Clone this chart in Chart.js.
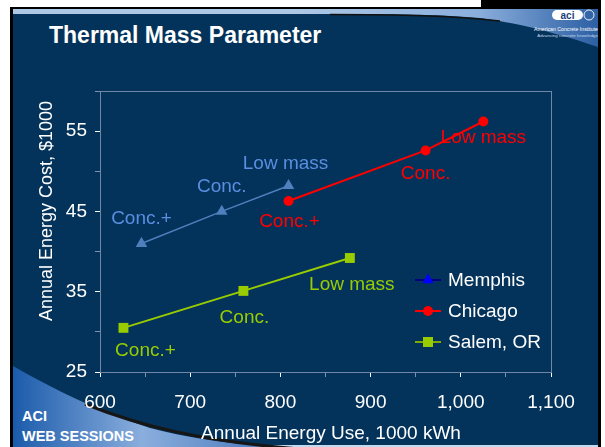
<!DOCTYPE html>
<html>
<head>
<meta charset="utf-8">
<title>Thermal Mass Parameter</title>
<script src="https://cdn.jsdelivr.net/npm/chart.js"></script>
<style>
  html, body { margin: 0; padding: 0; background: #fff; }
  #wrap { position: relative; width: 605px; height: 447px; overflow: hidden; }
  #deco, #chart { position: absolute; left: 0; top: 0; }
  svg text { font-family: "Liberation Sans", Arial, sans-serif; }
</style>
</head>
<body>
<div id="wrap">
  <svg id="deco" width="605" height="447">
    <defs>
      <linearGradient id="topSwoosh" gradientUnits="userSpaceOnUse" x1="300" y1="0" x2="598" y2="0">
        <stop offset="0" stop-color="#adc8e6"/>
        <stop offset="0.6" stop-color="#8aaedc"/>
        <stop offset="1" stop-color="#2c5fa3"/>
      </linearGradient>
      <linearGradient id="botSwoosh" gradientUnits="userSpaceOnUse" x1="13" y1="0" x2="300" y2="0">
        <stop offset="0" stop-color="#1b5bab"/>
        <stop offset="0.45" stop-color="#8aaedd"/>
        <stop offset="1" stop-color="#3a6eb5"/>
      </linearGradient>
    </defs>
    <rect x="10" y="7" width="591" height="440" fill="#000"/>
    <rect x="481" y="0" width="120" height="9" fill="#000"/>
    <rect x="13" y="9" width="585" height="438" fill="#03335a"/>
    <!-- top band and swoosh -->
    <path d="M13,9 H598 V47 C565,36 525,24 480,18 C430,13 360,14 13,14 Z" fill="url(#topSwoosh)"/>
    <path d="M330,14.5 C400,14.5 450,15.5 500,21" stroke="#111" stroke-width="1.6" fill="none"/>
    <!-- logo -->
    <rect x="552" y="10" width="31" height="10" rx="5" fill="#fff"/>
    <text x="567.5" y="18.5" font-size="10" font-weight="bold" fill="#1c3f7a" text-anchor="middle">aci</text>
    <circle cx="589" cy="15" r="5" fill="none" stroke="#e6eef8" stroke-width="1"/>
    <text x="598" y="31" font-size="5.2" fill="#ffffff" text-anchor="end">American Concrete Institute</text>
    <text x="598" y="36.5" font-size="4.4" fill="#c6d6ec" text-anchor="end">Advancing concrete knowledge</text>
    <!-- slide title -->
    <text x="49" y="43" font-size="23" font-weight="bold" fill="#fff">Thermal Mass Parameter</text>
    <!-- bottom band and swoosh -->
    <rect x="13" y="445" width="585" height="2" fill="#c3d9ee"/>
    <path d="M13,366 C55,390 100,412 150,428 C200,441 250,446 300,448 L13,448 Z" fill="url(#botSwoosh)"/>
    <path d="M85,404 C140,426 200,441 300,449" stroke="#161616" stroke-width="3" fill="none"/>
    <text x="22" y="421" font-size="14.5" font-weight="bold" fill="#fff">ACI</text>
    <text x="22" y="441" font-size="14.5" font-weight="bold" fill="#fff">WEB SESSIONS</text>
  </svg>
  <canvas id="chart" width="605" height="447"></canvas>
</div>
<script>
// series data
const seriesNames = ["Memphis", "Chicago", "Salem, OR"];
const pointNames = ["Conc.+", "Conc.", "Low mass"];

const memphisUse = [646, 735, 809];
const memphisCost = [41.0, 45.0, 48.2];
const chicagoUse = [809, 961, 1025];
const chicagoCost = [46.3, 52.6, 56.2];
const salemUse = [626, 759, 877];
const salemCost = [30.5, 35.1, 39.2];

// axis ranges and tick steps
const xRange = [600, 1100];
const yRange = [25, 60];
const xStep = 50;
const yStep = 5;

const FONT = '"Liberation Sans", Arial, sans-serif';
const axisColor = "#6f88a6";
const minorTick = "#7d93ad";

// label placement around each point (pixels)
const labelOffsets = [
  [[0, -25], [0, -25], [-3, -22]],
  [[1, 21], [0, 23], [0, 16]],
  [[22, 23], [1, 27], [2, 27]],
];

const legendStyles = [
  { line: "#000080", fill: "#0000ff", shape: "triangle" },
  { line: "#ff0000", fill: "#ff0000", shape: "circle" },
  { line: "#7fa800", fill: "#99cc00", shape: "square" },
];

function toPoints(xs, ys) {
  return xs.map((x, i) => ({ x: x, y: ys[i] }));
}

const pointLabels = {
  id: "pointLabels",
  afterDatasetsDraw(chart) {
    const ctx = chart.ctx;
    ctx.save();
    ctx.font = "19px " + FONT;
    ctx.textAlign = "center";
    ctx.textBaseline = "middle";
    chart.data.datasets.forEach((ds, i) => {
      chart.getDatasetMeta(i).data.forEach((pt, j) => {
        const off = labelOffsets[i][j];
        ctx.fillStyle = ds.labelColor;
        ctx.fillText(pointNames[j], pt.x + off[0], pt.y + off[1]);
      });
    });
    ctx.restore();
  },
};

const plotFrame = {
  id: "plotFrame",
  beforeDatasetsDraw(chart) {
    const a = chart.chartArea;
    const ctx = chart.ctx;
    ctx.save();
    ctx.strokeStyle = axisColor;
    ctx.lineWidth = 1;
    ctx.strokeRect(a.left + 0.5, a.top + 0.5, a.right - a.left, a.bottom - a.top);
    ctx.restore();
  },
};

const axisTitles = {
  id: "axisTitles",
  afterDraw(chart) {
    const a = chart.chartArea;
    const ctx = chart.ctx;
    ctx.save();
    ctx.fillStyle = "#fff";
    ctx.textAlign = "center";
    ctx.textBaseline = "middle";
    ctx.font = "19px " + FONT;
    ctx.fillText("Annual Energy Use, 1000 kWh", a.left + 231, a.bottom + 62);
    ctx.translate(a.left - 53, a.top + 120);
    ctx.rotate(-Math.PI / 2);
    ctx.font = "18px " + FONT;
    ctx.fillText("Annual Energy Cost, $1000", 0, 0);
    ctx.restore();
  },
};

const insideLegend = {
  id: "insideLegend",
  afterDraw(chart) {
    const a = chart.chartArea;
    const ctx = chart.ctx;
    const x0 = a.right - 136;
    const y0 = a.top + 189;
    ctx.save();
    ctx.font = "19px " + FONT;
    ctx.textBaseline = "middle";
    ctx.textAlign = "left";
    seriesNames.forEach((name, i) => {
      const st = legendStyles[i];
      const y = y0 + i * 31;
      const cx = x0 + 13;
      ctx.strokeStyle = st.line;
      ctx.lineWidth = 2;
      ctx.beginPath();
      ctx.moveTo(x0, y);
      ctx.lineTo(x0 + 26, y);
      ctx.stroke();
      ctx.fillStyle = st.fill;
      ctx.beginPath();
      if (st.shape === "triangle") {
        ctx.moveTo(cx, y - 6.5);
        ctx.lineTo(cx + 5.6, y + 3.3);
        ctx.lineTo(cx - 5.6, y + 3.3);
        ctx.closePath();
      } else if (st.shape === "circle") {
        ctx.arc(cx, y, 5, 0, Math.PI * 2);
      } else {
        ctx.rect(cx - 5, y - 5, 10, 10);
      }
      ctx.fill();
      ctx.fillStyle = "#fff";
      ctx.fillText(name, x0 + 33, y + 1);
    });
    ctx.restore();
  },
};

new Chart(document.getElementById("chart"), {
  type: "line",
  data: {
    datasets: [
      {
        label: seriesNames[0],
        data: toPoints(memphisUse, memphisCost),
        borderColor: "#4f7fbd",
        backgroundColor: "#4f7fbd",
        borderWidth: 1.5,
        pointStyle: "triangle",
        pointRadius: 6.7,
        pointBorderWidth: 0,
        labelColor: "#5b8de0",
      },
      {
        label: seriesNames[1],
        data: toPoints(chicagoUse, chicagoCost),
        borderColor: "#ff0000",
        backgroundColor: "#ff0000",
        borderWidth: 2,
        pointStyle: "circle",
        pointRadius: 5,
        pointBorderWidth: 0,
        labelColor: "#ff0000",
      },
      {
        label: seriesNames[2],
        data: toPoints(salemUse, salemCost),
        borderColor: "#99cc00",
        backgroundColor: "#99cc00",
        borderWidth: 2,
        pointStyle: "rect",
        pointRadius: 7,
        pointBorderWidth: 0,
        labelColor: "#99cc00",
      },
    ],
  },
  options: {
    responsive: false,
    animation: false,
    layout: { padding: { left: 0, top: 91, right: 54, bottom: 0 } },
    plugins: {
      legend: { display: false },
      tooltip: { enabled: false },
    },
    scales: {
      x: {
        type: "linear",
        min: xRange[0],
        max: xRange[1],
        afterFit: (s) => { s.height = 75; },
        ticks: {
          stepSize: xStep,
          autoSkip: false,
          maxRotation: 0,
          padding: 14,
          color: "#fff",
          font: { family: FONT, size: 19 },
          callback: (v) => (v % 100 === 0 ? v.toLocaleString("en-US") : ""),
        },
        grid: {
          drawOnChartArea: false,
          tickLength: 5,
          color: axisColor,
          tickColor: (c) => (c.tick && c.tick.value % 100 === 0 ? "#fff" : minorTick),
        },
        border: { color: axisColor },
      },
      y: {
        min: yRange[0],
        max: yRange[1],
        afterFit: (s) => { s.width = 100; },
        ticks: {
          stepSize: yStep,
          autoSkip: false,
          padding: 8,
          color: "#fff",
          font: { family: FONT, size: 19 },
          callback: (v) => (v % 10 === 5 ? v : ""),
        },
        grid: {
          drawOnChartArea: false,
          tickLength: 5,
          color: axisColor,
          tickColor: (c) => (c.tick && c.tick.value % 10 === 5 ? "#fff" : minorTick),
        },
        border: { color: axisColor },
      },
    },
  },
  plugins: [plotFrame, pointLabels, axisTitles, insideLegend],
});
</script>
</body>
</html>
